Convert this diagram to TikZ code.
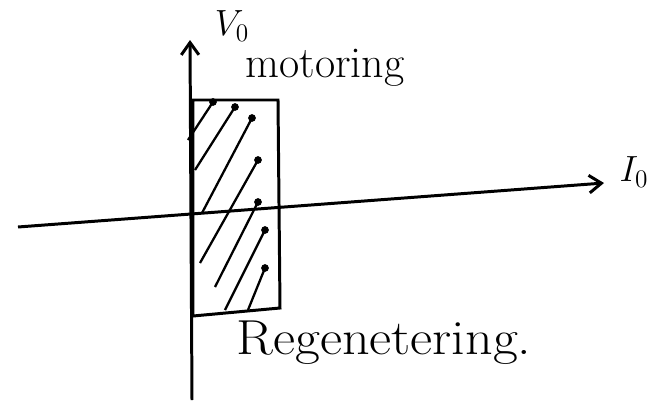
\documentclass[tikz,border=0pt]{standalone}
\usetikzlibrary{arrows.meta}
\begin{document}
\begin{tikzpicture}[x=0.02cm,y=-0.02cm,line width=1.7pt,
    axis/.style={-{Straight Barb[length=7pt,width=10pt]}},
    hatch/.style={line width=1.3pt},
    lbl/.style={font=\fontsize{21}{24}\selectfont}]

\useasboundingbox (0,0) rectangle (660,406);

% ===== Các trục =====
\coordinate (vbot) at (192,400);
\coordinate (vtop) at (190,40);
\coordinate (hleft) at (18,227);
\coordinate (hright) at (604,183);
\draw[axis] (vbot) -- (vtop);
\draw[axis] (hleft) -- (hright);

% ===== Hình chữ nhật =====
\draw (193,100) -- (278,100) -- (280,308) -- (193,316) -- cycle;

% ===== Gạch chéo =====
\foreach \a/\b/\c/\d in {188/140/213/102, 195/170/235/107, 202/213/252/118,
                         200/263/258/160, 215/287/258/202, 225/310/265/230,
                         248/310/265/268} {
    \draw[hatch] (\a,\b) -- (\c,\d);
    \fill (\c,\d) circle (2.2pt);
}

% ===== Nhãn =====
\node[lbl] (vo) at (232,26) {$V_0$};
\node[lbl] (io) at (634,172) {$I_0$};
\node[lbl,font=\fontsize{25}{28}\selectfont] (mot) at (325,68) {motoring};
\node[lbl,font=\fontsize{28}{32}\selectfont,xscale=1.1] (reg) at (384,343) {Regenetering.};

\end{tikzpicture}
\end{document}
